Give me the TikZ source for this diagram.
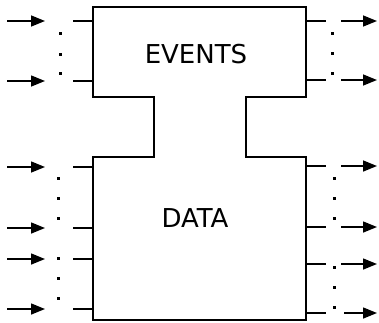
\documentclass[tikz,border=0pt]{standalone}
\usepackage{fontspec}
\setsansfont{DejaVu Sans}
\usetikzlibrary{arrows.meta}
\tikzset{wire/.style = {-, line width=1.5pt}}
\tikzset{signal/.style = {-{Triangle[length=14pt,width=11pt]}, line width=1.5pt}}
\tikzset{vdot/.style = {rectangle, fill=black, inner sep=0pt, minimum size=3pt}}

\begin{document}
\begin{tikzpicture}[x=1pt,y=-1pt]
	\useasboundingbox (0,0) rectangle (379,322);
	% corners of the two blocks and the neck between them
	\coordinate (tl) at (93,7);
	\coordinate (tr) at (306,7);
	\coordinate (bl) at (93,320);
	\coordinate (br) at (306,320);
	\draw[wire] (tl) -- (tr) -- (306,97) -- (246,97) -- (246,157) -- (306,157)
	    -- (br) -- (bl) -- (93,157) -- (154,157) -- (154,97) -- (93,97) -- cycle;
	\begin{scope}[every node/.style={font=\sffamily\fontsize{26}{26}\selectfont}]
	    \node (events) at (196,54) {EVENTS};
	    \node (data) at (195,218) {DATA};
	\end{scope}
	% inputs on the left
	\foreach \y [count=\i] in {21,81,167,228,259,309} {
	    \coordinate (in\i a) at (7,\y);
	    \coordinate (in\i b) at (45,\y);
	    \coordinate (in\i c) at (73,\y);
	    \coordinate (in\i d) at (93,\y);
	    \path [signal] (in\i a) edge (in\i b);
	    \path [wire] (in\i c) edge (in\i d);
	}
	% outputs on the right
	\foreach \y/\s [count=\i] in {21/341,80/341,166/341,227/341,264/341,313/344} {
	    \coordinate (out\i a) at (306,\y);
	    \coordinate (out\i b) at (326,\y);
	    \coordinate (out\i c) at (\s,\y);
	    \coordinate (out\i d) at (377,\y);
	    \path [wire] (out\i a) edge (out\i b);
	    \path [signal] (out\i c) edge (out\i d);
	}
	% ellipsis dots between the ports
	\foreach \x/\y [count=\i] in {60/33,60/54,60/73,58/178,58/198,58/218,58/258,58/278,58/298,
	    332/33,332/53,332/73,334/178,334/198,334/218,334/267,334/287,334/307}
	    \node [vdot] (dot\i) at (\x,\y) {};
\end{tikzpicture}
\end{document}
